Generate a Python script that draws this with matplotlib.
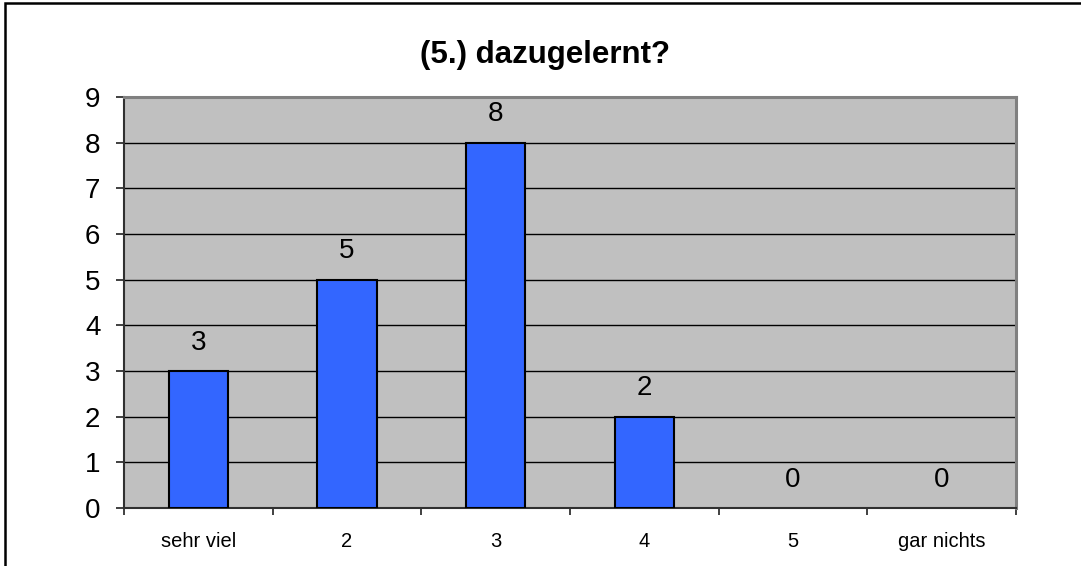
import matplotlib
matplotlib.use("Agg")
import matplotlib.pyplot as plt
from matplotlib.patches import Rectangle

# survey answers for question 5
categories = ["sehr viel", "2", "3", "4", "5", "gar nichts"]
counts = [3, 5, 8, 2, 0, 0]
yticks = list(range(0, 10))

W, H = 1081, 566
fig = plt.figure(figsize=(W / 100, H / 100), dpi=100)
plt.rcParams["font.family"] = ["Liberation Sans", "DejaVu Sans"]

# outer chart frame (right and bottom run off the picture)
fig.patches.append(Rectangle((5 / W, -0.05), 1.1, 1 - 3 / H + 0.05,
                             transform=fig.transFigure, fill=False,
                             edgecolor="black", linewidth=1.8, zorder=0))

ax = fig.add_axes([124 / W, 1 - 508 / H, (1016 - 124) / W, (508 - 97) / H])
ax.set_facecolor("#C0C0C0")

x = list(range(len(categories)))
# empty bars get no outline, as in the original
ax.bar(x, counts, width=0.4, color="#3366FF", edgecolor="black",
       linewidth=[1.5 if v else 0 for v in counts], zorder=3)

for xi, v in zip(x, counts):
    ax.annotate(str(v), (xi, v), xytext=(0, 11), textcoords="offset points",
                ha="center", va="bottom", fontsize=20, zorder=4)

ax.set_xlim(-0.5, len(categories) - 0.5)
ax.set_ylim(0, 9)
ax.set_yticks(yticks)
ax.set_yticklabels([str(t) for t in yticks], fontsize=20)
ax.yaxis.grid(True, color="black", linewidth=1.0, zorder=1)
ax.set_axisbelow(True)

# category labels in the middle, tick marks on the boundaries
ax.set_xticks(x)
ax.set_xticklabels(categories, fontsize=14.5)
ax.tick_params(axis="x", which="major", length=0, pad=17)
ax.set_xticks([i - 0.5 for i in range(len(categories) + 1)], minor=True)
ax.tick_params(axis="x", which="minor", length=5, width=1.2, color="#202020",
               direction="out")
ax.tick_params(axis="y", length=6, width=1.2, color="#202020", pad=11)

for side in ("top", "right"):
    ax.spines[side].set_color("#808080")
    ax.spines[side].set_linewidth(2.2)
for side in ("left", "bottom"):
    ax.spines[side].set_color("#303030")
    ax.spines[side].set_linewidth(1.5)

fig.text(545 / W, 1 - 55 / H, "(5.) dazugelernt?", ha="center", va="center",
         fontsize=22.5, fontweight="bold")

fig.savefig("out.png", dpi=100)
